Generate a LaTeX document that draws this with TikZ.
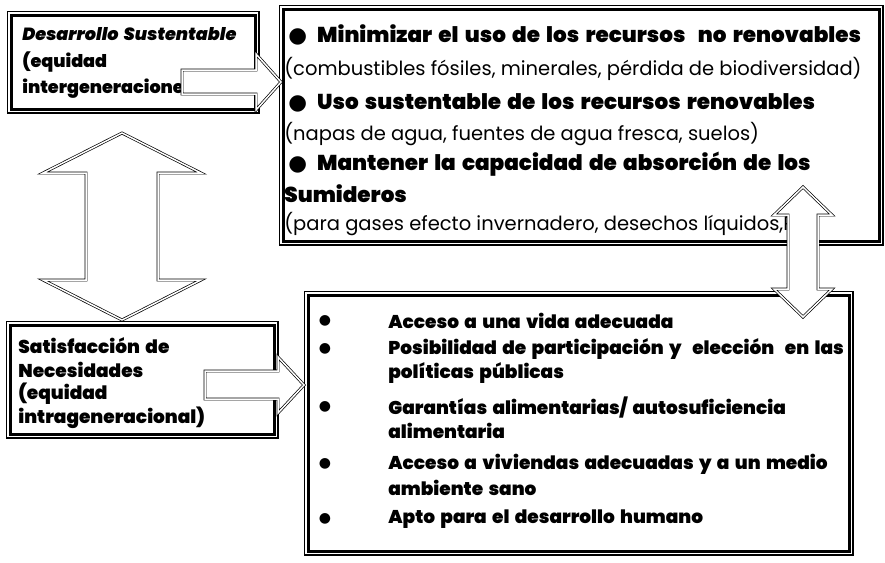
\documentclass[tikz,border=0pt]{standalone}
\usepackage{fontspec}
\setmainfont{Poppins}[BoldFont={Poppins Black}, BoldItalicFont={Poppins Black Italic},
  BoldFeatures={WordSpace=1.7}, BoldItalicFeatures={WordSpace=1.7}]
\newfontfamily\dotfont{DejaVu Sans}
\usetikzlibrary{calc}

\tikzset{every picture/.style={line width=0.75pt}}
\tikzset{
  panel/.style={draw, fill=white, line width=2.6pt, inner sep=0pt, anchor=north west,
    preaction={draw, line width=8.5pt}, preaction={draw=white, line width=6pt}},
  flowarrow/.style={draw, fill=white, line width=0.7pt, double, double distance=1.5pt, line join=miter},
  boldline/.style={anchor=west, inner sep=0pt, font=\bfseries\fontsize{18.5}{22}\selectfont},
  smallbold/.style={anchor=west, inner sep=0pt, font=\bfseries\fontsize{17.6}{22}\selectfont},
  bigline/.style={anchor=west, inner sep=0pt, font=\bfseries\fontsize{21.5}{26}\selectfont},
  plainline/.style={anchor=west, inner sep=0pt, font=\fontsize{19.5}{23}\selectfont},
  dotmark/.style={anchor=center, inner sep=0pt, font=\dotfont\fontsize{14}{16}\selectfont}
}

% block arrow pointing right: tail, tip, shaft half width, head half width, head length
\newcommand\rightblock[5]{%
  \draw[flowarrow] let \p1=(#1), \p2=(#2) in
    (\x1,\y2+#3) -- (\x2-#5,\y2+#3) -- (\x2-#5,\y2+#4) -- (\x2,\y2)
    -- (\x2-#5,\y2-#4) -- (\x2-#5,\y2-#3) -- (\x1,\y2-#3) -- cycle;}
% block arrow pointing up and down: top tip, bottom tip, shaft half width, head half width, head length
\newcommand\updownblock[5]{%
  \draw[flowarrow] let \p1=(#1), \p2=(#2) in
    (\x1,\y1) -- (\x1+#4,\y1-#5) -- (\x1+#3,\y1-#5) -- (\x1+#3,\y2+#5)
    -- (\x1+#4,\y2+#5) -- (\x1,\y2) -- (\x1-#4,\y2+#5) -- (\x1-#3,\y2+#5)
    -- (\x1-#3,\y1-#5) -- (\x1-#4,\y1-#5) -- cycle;}

\begin{document}
\begin{tikzpicture}[x=1pt,y=-1pt]
\useasboundingbox (0,0) rectangle (885,562);

%Boxes
\node[panel, minimum width=244pt, minimum height=94pt] (sust) at (10,14) {};
\node[panel, minimum width=596pt, minimum height=232pt] (limits) at (282,8) {};
\node[panel, minimum width=264pt, minimum height=109pt] (needs) at (9,324) {};
\node[panel, minimum width=541pt, minimum height=256pt] (goals) at (307,294) {};

% Text of the upper left box
\node[smallbold, font=\bfseries\itshape\fontsize{17.6}{22}\selectfont] (s1) at (22,34) {Desarrollo Sustentable};
\node[smallbold] (s2) at (22,62) {(equidad};
\node[smallbold] (s3) at (22,89) {intergeneracione};

% Text of the upper right box
\node[bigline] (l1) at (288,35) {{\dotfont●}\hspace{10pt}Minimizar el uso de los recursos\ \ no renovables};
\node[plainline] (l2) at (284,69) {(combustibles fósiles, minerales, pérdida de biodiversidad)};
\node[bigline] (l3) at (288,103) {{\dotfont●}\hspace{10pt}Uso sustentable de los recursos renovables};
\node[plainline] (l4) at (284,134) {(napas de agua, fuentes de agua fresca, suelos)};
\node[bigline] (l5) at (288,164) {{\dotfont●}\hspace{10pt}Mantener la capacidad de absorción de los};
\node[bigline] (l6) at (284,194) {Sumideros};
\node[plainline] (l7) at (284,224) {(para gases efecto invernadero, desechos líquidos,R};

% Text of the lower left box
\node[boldline] (n1) at (18,346) {Satisfacción de};
\node[boldline] (n2) at (18,370) {Necesidades};
\node[boldline] (n3) at (18,394) {(equidad};
\node[boldline] (n4) at (18,418) {intrageneracional)};

% Text of the lower right box
\foreach \yy in {321,349,407,464,519}
  \node[dotmark] at (325,\yy) {●};
\node[boldline] (g1) at (388,321) {Acceso a una vida adecuada};
\node[boldline] (g2) at (388,349) {Posibilidad de participación y\ \ elección\ \ en las};
\node[boldline] (g3) at (388,373) {políticas públicas};
\node[boldline] (g4) at (388,407) {Garantías alimentarias/ autosuficiencia};
\node[boldline] (g5) at (388,431) {alimentaria};
\node[boldline] (g6) at (388,464) {Acceso a viviendas adecuadas y a un medio};
\node[boldline] (g7) at (388,488) {ambiente sano};
\node[boldline] (g8) at (388,519) {Apto para el desarrollo humano};

% Arrow ends
\coordinate (abtail) at (182,82);
\coordinate (abtip) at (281,82);
\coordinate (cdtail) at (205,385);
\coordinate (cdtip) at (304,385);
\coordinate (actop) at (122,133);
\coordinate (acbot) at (122,320);
\coordinate (bdtop) at (803,187);
\coordinate (bdbot) at (803,317);

% Arrows
\rightblock{abtail}{abtip}{12pt}{28pt}{25pt}
\rightblock{cdtail}{cdtip}{14pt}{28pt}{26pt}
\updownblock{actop}{acbot}{36pt}{79pt}{40pt}
\updownblock{bdtop}{bdbot}{15pt}{29pt}{28pt}

\end{tikzpicture}
\end{document}
